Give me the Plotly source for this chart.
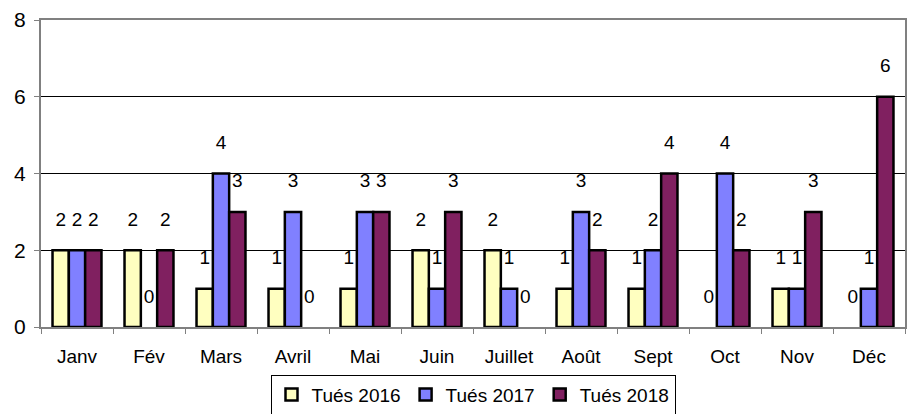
import plotly.graph_objects as go

months = ["Janv", "Fév", "Mars", "Avril", "Mai", "Juin", "Juillet", "Août", "Sept", "Oct", "Nov", "Déc"]
tues_2016 = [2, 2, 1, 1, 1, 2, 2, 1, 1, 0, 1, 0]
tues_2017 = [2, 0, 4, 3, 3, 1, 1, 3, 2, 4, 1, 1]
tues_2018 = [2, 2, 3, 0, 3, 3, 0, 2, 4, 2, 3, 6]

series = [
    ("Tués 2016", tues_2016, "#FFFFC0"),
    ("Tués 2017", tues_2017, "#8080FF"),
    ("Tués 2018", tues_2018, "#802060"),
]

font = "Liberation Sans, Arial, sans-serif"
fig = go.Figure()
for i, (name, vals, col) in enumerate(series):
    fig.add_trace(go.Bar(
        x=months, y=vals, name=name, offsetgroup=str(i),
        marker=dict(color=col, line=dict(color="black", width=[0 if v == 0 else 2.5 for v in vals])),
        hoverinfo="skip",
    ))
for i, (name, vals, col) in enumerate(series):
    fig.add_trace(go.Scatter(
        x=months, y=vals, mode="markers+text", offsetgroup=str(i),
        marker=dict(size=30, opacity=0, color=col),
        text=[str(v) for v in vals], textposition="top center",
        textfont=dict(family=font, size=19, color="black"),
        showlegend=False, cliponaxis=False, hoverinfo="skip",
    ))

fig.update_layout(
    width=907, height=414,
    margin=dict(l=41, r=2, t=20, b=87, autoexpand=False),
    paper_bgcolor="white", plot_bgcolor="white",
    barmode="group", bargap=0.32, bargroupgap=0,
    scattermode="group", scattergap=0.32,
    font=dict(family=font, size=19, color="black"),
    showlegend=True,
    legend=dict(orientation="h", x=0.5, xanchor="center", y=-0.155, yanchor="top",
                bordercolor="black", borderwidth=1, bgcolor="white",
                font=dict(family=font, size=19), itemwidth=30,
                traceorder="normal", tracegroupgap=0),
)
fig.update_xaxes(showline=True, linecolor="#808080", linewidth=2, mirror=True,
                 ticks="outside", tickson="boundaries", ticklen=5, tickcolor="#808080",
                 ticklabelstandoff=11, automargin=False,
                 tickfont=dict(family=font, size=19))
fig.update_yaxes(range=[0, 8], dtick=2, showgrid=True, gridcolor="black", gridwidth=1,
                 showline=True, linecolor="#808080", linewidth=2, mirror=True,
                 ticks="outside", ticklen=5, tickcolor="#808080", zeroline=False,
                 automargin=False, ticklabelstandoff=4,
                 tickfont=dict(family=font, size=21))
fig.write_html("out.html", config={"displayModeBar": False},
               post_script="document.body.style.margin='0';document.body.style.padding='0';")
